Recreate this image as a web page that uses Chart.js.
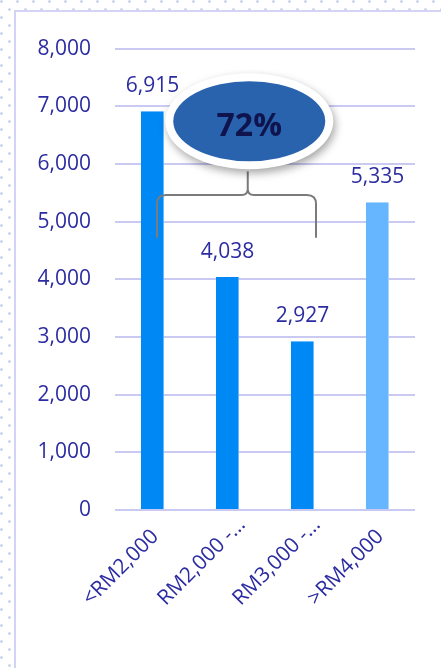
<!DOCTYPE html>
<html>
<head>
<meta charset="utf-8">
<script src="https://cdn.jsdelivr.net/npm/chart.js@4.4.1/dist/chart.umd.min.js"></script>
<style>
    html, body {
        margin: 0;
        padding: 0;
        width: 441px;
        height: 668px;
        overflow: hidden;
        background-color: #fff;
        background-image:
            radial-gradient(circle at 1.5px 1.5px, #cbd5ee 1.1px, transparent 1.6px),
            radial-gradient(circle at 9.5px 9.5px, #cbd5ee 1.1px, transparent 1.6px);
        background-size: 16px 16px, 16px 16px;
    }
    .chart-box {
        position: absolute;
        left: 14px;
        top: 10px;
        width: 425px;
        height: 656px;
        background: #fff;
        border-left: 2px solid #d3d3f5;
        border-top: 2px solid #d3d3f5;
    }
    canvas { display: block; }
</style>
</head>
<body>
<div class="chart-box">
    <canvas id="income-chart" width="425" height="656"></canvas>
</div>
<script>
// 가구 소득 구간별 분포
const incomeBands = ["<RM2,000", "RM2,000 -…", "RM3,000 -…", ">RM4,000"];
const households = [6915, 4038, 2927, 5335];
const yMax = 8000;
const yStep = 1000;
// 괄호로 묶는 구간 (앞의 세 구간)
const groupedBands = [0, 1, 2];

window.onload = function(){

    const textColor = "#2c2ca2";
    const fontFamily = "'Open Sans', sans-serif";

    // 막대 위 숫자
    const valueLabels = {
        id: "valueLabels",
        afterDatasetsDraw(chart){
            const ctx = chart.ctx;
            const meta = chart.getDatasetMeta(0);
            ctx.save();
            ctx.font = "21px " + fontFamily;
            ctx.fillStyle = textColor;
            ctx.textAlign = "center";
            ctx.textBaseline = "alphabetic";
            meta.data.forEach((bar, i) => {
                ctx.fillText(households[i].toLocaleString("en-US"), bar.x, bar.y - 19);
            });
            ctx.restore();
        }
    };

    // x축 라벨: 45도 기울여서 왼쪽 아래에서 시작
    const bandLabels = {
        id: "bandLabels",
        afterDraw(chart){
            const ctx = chart.ctx;
            const x = chart.scales.x;
            ctx.save();
            ctx.font = "21px " + fontFamily;
            ctx.fillStyle = textColor;
            ctx.textAlign = "left";
            ctx.textBaseline = "middle";
            incomeBands.forEach((label, i) => {
                ctx.save();
                ctx.translate(x.getPixelForValue(i) - 66, x.top + 92);
                ctx.rotate(-Math.PI / 4);
                ctx.fillText(label, 0, 0);
                ctx.restore();
            });
            ctx.restore();
        }
    };

    // 중괄호 + 비율 타원
    const shareNote = {
        id: "shareNote",
        afterDatasetsDraw(chart){
            const ctx = chart.ctx;
            const x = chart.scales.x;
            const y = chart.scales.y;

            const total = households.reduce((a, b) => a + b, 0);
            const part = groupedBands.reduce((a, i) => a + households[i], 0);
            const share = Math.round(part / total * 100) + "%";

            const L = x.getPixelForValue(0.06);
            const R = x.getPixelForValue(2.18);
            const T = x.getPixelForValue(1.27);
            const B = y.getPixelForValue(4720);
            const H = y.getPixelForValue(5460);
            const top = y.getPixelForValue(5870);
            const r = 9, rt = 6;

            ctx.save();
            ctx.strokeStyle = "#7b7b7b";
            ctx.lineWidth = 2;
            ctx.lineJoin = "round";
            ctx.beginPath();
            ctx.moveTo(L, B);
            ctx.lineTo(L, H + r);
            ctx.quadraticCurveTo(L, H, L + r, H);
            ctx.lineTo(T - rt, H);
            ctx.quadraticCurveTo(T, H, T, H - rt);
            ctx.lineTo(T, top);
            ctx.moveTo(T, H - rt);
            ctx.quadraticCurveTo(T, H, T + rt, H);
            ctx.lineTo(R - r, H);
            ctx.quadraticCurveTo(R, H, R, H + r);
            ctx.lineTo(R, B);
            ctx.stroke();
            ctx.restore();

            const cx = x.getPixelForValue(1.29);
            const cy = y.getPixelForValue(6740);

            ctx.save();
            ctx.shadowColor = "rgba(0,0,0,0.35)";
            ctx.shadowBlur = 8;
            ctx.shadowOffsetX = 2;
            ctx.shadowOffsetY = 4;
            ctx.fillStyle = "#ffffff";
            ctx.beginPath();
            ctx.ellipse(cx, cy, 84, 48, 0, 0, Math.PI * 2);
            ctx.fill();
            ctx.restore();

            ctx.save();
            ctx.fillStyle = "#2963ae";
            ctx.beginPath();
            ctx.ellipse(cx, cy, 76, 40, 0, 0, Math.PI * 2);
            ctx.fill();
            ctx.font = "bold 32px " + fontFamily;
            ctx.fillStyle = "#10144e";
            ctx.textAlign = "center";
            ctx.textBaseline = "middle";
            ctx.fillText(share, cx, cy + 6);
            ctx.restore();
        }
    };

    let incomeChart = new Chart(
        document.getElementById("income-chart"),{
            type: "bar",
            data: {
                labels: incomeBands,
                datasets: [
                    {
                        label: "households",
                        data: households,
                        backgroundColor: (c) => c.dataIndex === 3 ? "#66b5ff" : "#0088f5",
                        borderColor: (c) => c.dataIndex === 3 ? "#a9d5ff" : "#6ab8ff",
                        borderWidth: {top: 0, right: 1, bottom: 0, left: 0},
                        borderSkipped: false,
                        barPercentage: 0.31,
                        categoryPercentage: 1
                    }
                ]
            },
            options: {
                responsive: false,
                animation: false,
                devicePixelRatio: 1,
                layout: {
                    padding: {top: 32, right: 26, bottom: 0, left: 0}
                },
                plugins: {
                    legend: {display: false},
                    tooltip: {enabled: false},
                    title: {display: false}
                },
                scales: {
                    x: {
                        grid: {display: false, drawTicks: false},
                        border: {display: false},
                        ticks: {display: false},
                        afterFit(scale){ scale.height = 158; }
                    },
                    y: {
                        min: 0,
                        max: yMax,
                        grid: {color: "#c9c9f2", lineWidth: 2, drawTicks: false},
                        border: {display: false},
                        ticks: {
                            stepSize: yStep,
                            color: textColor,
                            font: {family: fontFamily, size: 21},
                            padding: 24
                        },
                        afterFit(scale){ scale.width = 99; }
                    }
                }
            },
            plugins: [valueLabels, shareNote, bandLabels]
        }
    );

}
</script>
</body>
</html>
